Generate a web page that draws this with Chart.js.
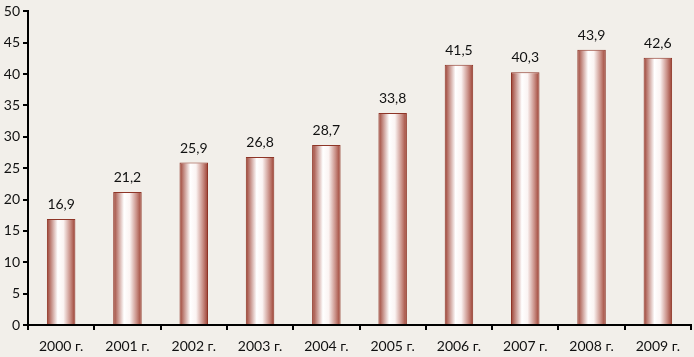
<!DOCTYPE html>
<html>
<head>
<meta charset="utf-8">
<script src="https://cdn.jsdelivr.net/npm/chart.js@4"></script>
<style>
  html, body { margin: 0; padding: 0; background: #f2efea; }
  #wrap { width: 694px; height: 357px; }
</style>
</head>
<body>
<div id="wrap"><canvas id="chart"></canvas></div>
<script>
const years = ["2000 г.", "2001 г.", "2002 г.", "2003 г.", "2004 г.", "2005 г.", "2006 г.", "2007 г.", "2008 г.", "2009 г."];
const values = [16.9, 21.2, 25.9, 26.8, 28.7, 33.8, 41.5, 40.3, 43.9, 42.6];

const FONT = "Lato, 'Open Sans', sans-serif";
const edge = "#9b3e30";

// horizontal shading for each bar, built once the bars have positions
const barShade = {
  id: "barShade",
  beforeDatasetsDraw(chart) {
    const ctx = chart.ctx;
    chart.getDatasetMeta(0).data.forEach((bar) => {
      const x0 = bar.x - bar.width / 2;
      const x1 = bar.x + bar.width / 2;
      const g = ctx.createLinearGradient(x0, 0, x1, 0);
      g.addColorStop(0, "#9b3e30");
      g.addColorStop(0.38, "#ffffff");
      g.addColorStop(0.58, "#fbf4f3");
      g.addColorStop(0.82, "#c98f86");
      g.addColorStop(1, "#9b3e30");
      bar.options.backgroundColor = g;
    });
  },
};

const valueLabels = {
  id: "valueLabels",
  afterDatasetsDraw(chart) {
    const ctx = chart.ctx;
    ctx.save();
    ctx.font = "14px " + FONT;
    ctx.fillStyle = "#111";
    ctx.textAlign = "center";
    ctx.textBaseline = "alphabetic";
    chart.getDatasetMeta(0).data.forEach((bar, i) => {
      ctx.fillText(values[i].toFixed(1).replace(".", ","), bar.x, bar.y - 10);
    });
    ctx.restore();
  },
};

new Chart(document.getElementById("chart"), {
  type: "bar",
  data: {
    labels: years,
    datasets: [
      {
        data: values,
        // scriptable so every bar keeps its own options object
        backgroundColor: () => edge,
        borderColor: "#8e3527",
        borderWidth: 1,
        barPercentage: 0.43,
        categoryPercentage: 1,
      },
    ],
  },
  options: {
    responsive: true,
    maintainAspectRatio: false,
    animation: false,
    layout: { padding: { top: 6, right: 3, left: 0, bottom: 0 } },
    plugins: { legend: { display: false }, tooltip: { enabled: false } },
    scales: {
      x: {
        grid: { display: true, drawOnChartArea: false, drawTicks: true, tickLength: 5, color: "#000", lineWidth: 2 },
        border: { display: true, color: "#000", width: 2 },
        ticks: { color: "#111", font: { size: 14, family: FONT }, padding: 8, maxRotation: 0 },
        afterFit: (s) => { s.height = 32; },
      },
      y: {
        min: 0,
        max: 50,
        grid: { display: true, drawOnChartArea: false, drawTicks: true, tickLength: 5, color: "#000", lineWidth: 2 },
        border: { display: true, color: "#000", width: 2 },
        ticks: { stepSize: 5, color: "#111", font: { size: 14, family: FONT }, padding: 3 },
        afterFit: (s) => { s.width = 28; },
      },
    },
  },
  plugins: [barShade, valueLabels],
});
</script>
</body>
</html>
